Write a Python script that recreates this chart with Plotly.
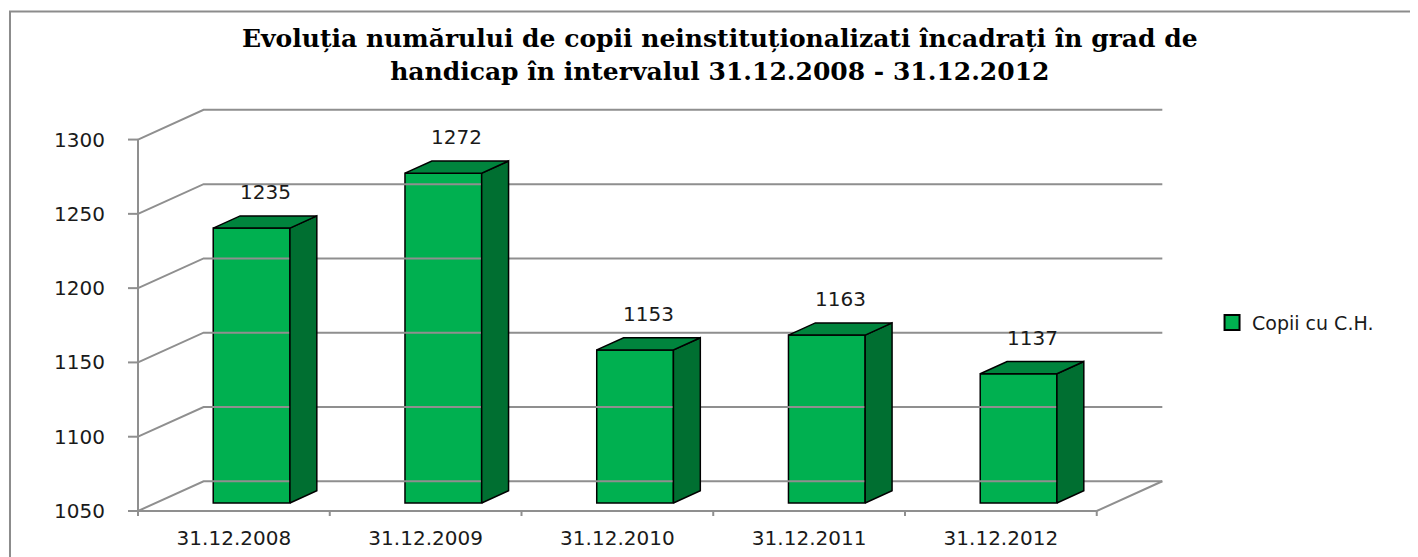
import plotly.graph_objects as go

# ---- data ----
categories = ["31.12.2008", "31.12.2009", "31.12.2010", "31.12.2011", "31.12.2012"]
values = [1235, 1272, 1153, 1163, 1137]
series_name = "Copii cu C.H."
y_ticks = [1050, 1100, 1150, 1200, 1250, 1300]
title_lines = ["Evoluția numărului de copii neinstituționalizati încadrați în grad de",
               "handicap în intervalul 31.12.2008 - 31.12.2012"]

# ---- geometry / style ----
OFF = 8                      # page body margin
W, H = 1418 - OFF, 557 - OFF
YMIN = 1050
D = 20.0        # depth of the 3-D box, in value units
K = 0.342       # depth of the 3-D box, in category units
F0 = 0.27       # depth fraction of the bar front face
DD = 0.41       # bar depth fraction
BW = 0.40       # bar width (category units)
GRID = "#8f8f8f"
FRONT, TOP, SIDE = "#00B050", "#00843D", "#006F31"
TXT = "#1a1a1a"

n = len(categories)
x0 = -0.5 - 10 / 191.74
x1 = n - 0.5 + K + 0.014
y0 = YMIN - 5 / 1.483
y1 = 1330
l = 128 - OFF
b = 557 - 515.7
pw = (x1 - x0) * 191.74
ph = (y1 - y0) * 1.483
r = W - l - pw
t = H - b - ph

fig = go.Figure()

# back wall grid lines (with left-wall diagonals)
gx, gy = [], []
for v in y_ticks:
    gx += [-0.5, -0.5 + K, n - 0.5 + K, None]
    gy += [v, v + D, v + D, None]
# floor front edge and right diagonal
gx += [-0.5, n - 0.5, n - 0.5 + K, None]
gy += [YMIN, YMIN, YMIN + D, None]
# front value axis
gx += [-0.5, -0.5, None]
gy += [YMIN, y_ticks[-1], None]
# value axis tick marks
for v in y_ticks:
    gx += [x0, -0.5, None]
    gy += [v, v, None]
# category boundary tick marks
for i in range(n + 1):
    gx += [i - 0.5, i - 0.5, None]
    gy += [y0, YMIN, None]
fig.add_trace(go.Scatter(x=gx, y=gy, mode="lines", line=dict(color=GRID, width=2),
                         hoverinfo="skip", showlegend=False))

# bar side and top faces
sx, sy, tx, ty = [], [], [], []
for i, v in enumerate(values):
    c = i + K * F0
    xl, xr = c - BW / 2, c + BW / 2
    zb, zt = YMIN + F0 * D, v + F0 * D
    dxk, dyk = K * DD, D * DD
    sx += [xr, xr, xr + dxk, xr + dxk, xr, None]
    sy += [zb, zt, zt + dyk, zb + dyk, zb, None]
    tx += [xl, xr, xr + dxk, xl + dxk, xl, None]
    ty += [zt, zt, zt + dyk, zt + dyk, zt, None]
fig.add_trace(go.Scatter(x=sx, y=sy, mode="lines", fill="toself", fillcolor=SIDE,
                         line=dict(color="black", width=1.5), hoverinfo="skip", showlegend=False))
fig.add_trace(go.Scatter(x=tx, y=ty, mode="lines", fill="toself", fillcolor=TOP,
                         line=dict(color="black", width=1.5), hoverinfo="skip", showlegend=False))

# bar front faces
fig.add_trace(go.Bar(
    x=[i + K * F0 for i in range(n)],
    y=[v - YMIN for v in values],
    base=[YMIN + F0 * D] * n,
    width=BW,
    marker=dict(color=FRONT, line=dict(color="black", width=1.5)),
    name=series_name, showlegend=False,
    customdata=categories,
    hovertemplate="%{customdata}: %{y}<extra></extra>",
))

# legend entry
fig.add_trace(go.Scatter(x=[None], y=[None], mode="markers", name=series_name,
                         marker=dict(symbol="square", size=15, color=FRONT,
                                     line=dict(color="black", width=2))))

# data labels
for i, v in enumerate(values):
    fig.add_annotation(x=i + K * F0 + K * DD * 0.5, y=v + (F0 + DD) * D, text=str(v),
                       showarrow=False, yshift=24, yanchor="middle",
                       font=dict(family="DejaVu Sans", size=20, color=TXT))


def px_to_paper_x(px):
    return (px - OFF - l) / pw


def px_to_paper_y(py):
    return (H - b - (py - OFF)) / ph


# title (two lines, one text block)
fig.add_annotation(xref="paper", yref="paper", x=px_to_paper_x(720), y=px_to_paper_y(56),
                   text="<b>" + "<br>".join(title_lines) + "</b>", showarrow=False,
                   xanchor="center", yanchor="middle", align="center",
                   font=dict(family="DejaVu Serif", size=25, color="black"))

# chart frame (left and top edges)
fig.add_shape(type="rect", xref="paper", yref="paper",
              x0=px_to_paper_x(10), x1=px_to_paper_x(1440),
              y0=px_to_paper_y(580), y1=px_to_paper_y(12),
              line=dict(color="#8c8c8c", width=2), fillcolor="rgba(0,0,0,0)", layer="below")

fig.update_layout(
    width=W, height=H,
    margin=dict(l=l, r=r, t=t, b=b, pad=0),
    paper_bgcolor="white", plot_bgcolor="white",
    xaxis=dict(range=[x0, x1], tickmode="array", tickvals=list(range(n)), ticktext=categories,
               showgrid=False, zeroline=False, showline=False, ticks="outside", ticklen=4,
               tickcolor="rgba(0,0,0,0)", automargin=False,
               tickfont=dict(family="DejaVu Sans", size=20, color=TXT)),
    yaxis=dict(range=[y0, y1], tickmode="array", tickvals=y_ticks,
               showgrid=False, zeroline=False, showline=False, ticks="outside", ticklen=18,
               tickcolor="rgba(0,0,0,0)", automargin=False,
               tickfont=dict(family="DejaVu Sans", size=20, color=TXT)),
    legend=dict(x=px_to_paper_x(1212), y=px_to_paper_y(322.7), xanchor="left", yanchor="middle",
                font=dict(family="DejaVu Sans", size=19, color=TXT),
                bgcolor="rgba(0,0,0,0)"),
    showlegend=True,
)

fig.write_html("out.html")
